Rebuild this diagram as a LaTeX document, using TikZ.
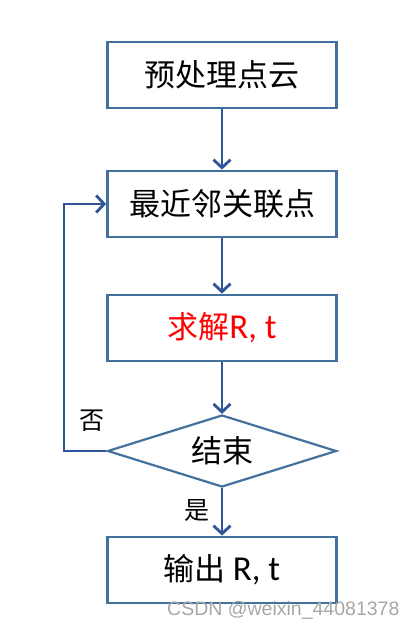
\documentclass[tikz,border=0pt]{standalone}
\usepackage{fontspec}
\setmainfont{Carlito}
\newfontfamily\cjk{Noto Sans CJK SC}
\newfontfamily\wmfont{Liberation Sans}
\usetikzlibrary{shapes.geometric,arrows.meta}
\definecolor{boxline}{RGB}{65,113,156}
\definecolor{arrline}{RGB}{47,85,151}
\newcommand{\rt}{{\fontsize{35}{40}\selectfont R, t}}

\begin{document}
\begin{tikzpicture}[x=1pt, y=-1pt,
    stepbox/.style={draw=boxline, line width=2.8pt, minimum width=229pt, minimum height=66pt, inner sep=0, font=\fontsize{31}{36}\selectfont},
    decide/.style={diamond, draw=boxline, line width=2.2pt, minimum width=229pt, minimum height=72pt, aspect=3.2, inner sep=0, font=\fontsize{31}{36}\selectfont},
    flow/.style={draw=arrline, line width=2.8pt, -{Straight Barb[length=8pt, width=17pt]}},
    side/.style={inner sep=0, font=\fontsize{25}{30}\selectfont}]
  \useasboundingbox (0,0) rectangle (414,630);
  \node[stepbox] (pre) at (222,75) {\cjk 预处理点云};
  \node[stepbox] (nn) at (222,204) {\cjk 最近邻关联点};
  \node[stepbox] (solve) at (222,328) {\textcolor{red}{{\cjk 求解}\rt}};
  \node[decide] (stop) at (222,451) {\cjk 结束};
  \node[stepbox] (out) at (222,570) {{\cjk 输出} \rt};
  \coordinate (back) at (64,451);
  \node[side] (no) at (92,421) {\cjk 否};
  \node[side] (yes) at (197,511) {\cjk 是};
  \draw[flow] (pre) -- (nn);
  \draw[flow] (nn) -- (solve);
  \draw[flow] (solve) -- (stop);
  \draw[flow] (stop) -- (out);
  \draw[flow] (stop.west) -- (back) |- (nn.west);
  % watermark
  \node[anchor=base west, inner sep=0, text=black!35, font=\fontsize{19.5}{22}\selectfont] (mark) at (167,615) {\wmfont CSDN @weixin\_44081378};
\end{tikzpicture}
\end{document}
